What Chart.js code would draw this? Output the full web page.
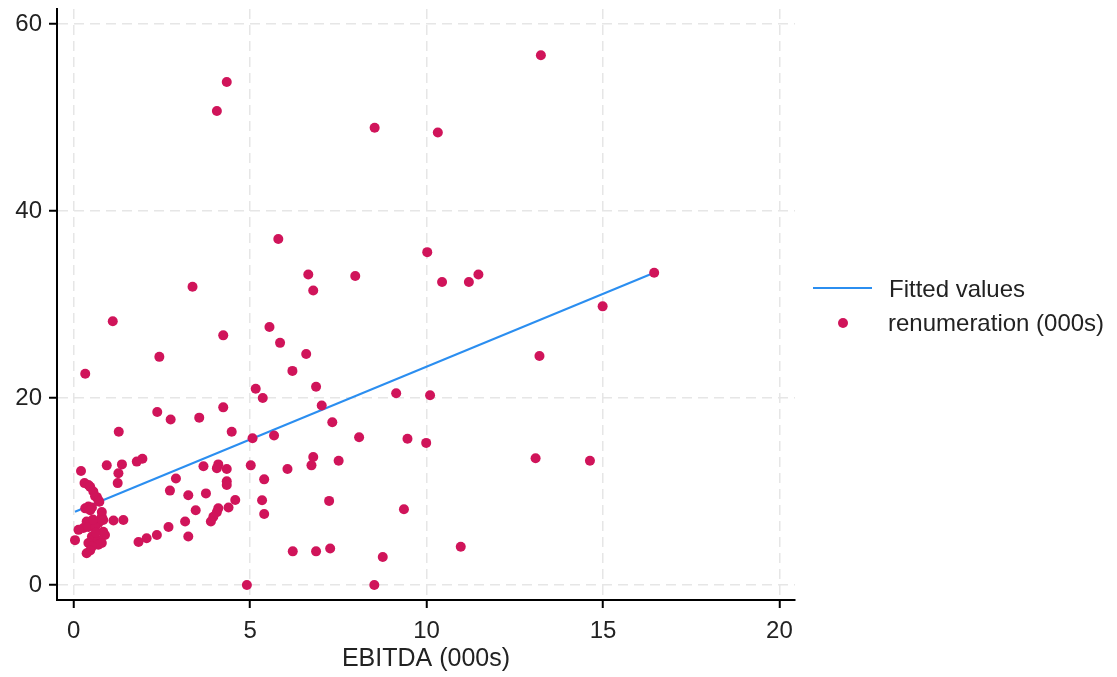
<!DOCTYPE html>
<html>
<head>
<meta charset="utf-8">
<script src="https://cdn.jsdelivr.net/npm/chart.js@4"></script>
<style>
body{margin:0;background:#fff;}
#wrap{position:relative;width:1117px;height:677px;font-family:"Liberation Sans",Arial,sans-serif;color:#222;}
#legend .item{position:absolute;font-size:24px;line-height:24px;white-space:nowrap;}
#legend .line{position:absolute;height:2px;background:#2b8ef0;}
#legend .dot{position:absolute;width:10px;height:10px;border-radius:50%;background:#d0145a;}
</style>
</head>
<body>
<div id="wrap">
<canvas id="scatterChart" width="1117" height="677"></canvas>
<div id="legend">
  <div class="line" style="left:813px;top:287px;width:59px;"></div>
  <div class="item" style="left:889px;top:277px;">Fitted values</div>
  <div class="dot" style="left:838px;top:318px;"></div>
  <div class="item" style="left:888px;top:311px;">renumeration (000s)</div>
</div>
</div>
<script>
// EBITDA (000s) and renumeration (000s)
const ebitda = [
13.24,4.34,4.06,8.53,10.32,5.8,10.02,16.45,6.65,7.98,
11.47,11.2,10.44,6.79,3.37,14.99,1.11,5.55,4.24,5.85,
6.59,2.43,13.2,0.33,6.2,6.87,5.16,9.14,5.36,10.1,
7.03,4.24,2.37,3.56,2.75,7.33,1.28,4.48,5.68,8.09,
9.46,5.07,9.99,13.09,14.63,1.95,1.79,6.79,7.51,6.74,
5.02,3.68,4.1,4.06,4.34,6.06,1.37,0.94,1.27,0.21,
2.9,5.4,4.34,4.34,1.25,0.31,0.42,0.47,2.73,3.75,
3.25,0.56,0.61,0.66,0.7,4.58,5.34,7.24,0.73,0.33,
0.42,0.52,4.1,4.39,3.46,9.36,5.4,0.8,4.06,3.96,
0.8,0.84,1.13,1.41,3.89,3.16,0.37,0.7,2.69,0.28,
0.14,0.42,0.61,0.84,0.89,2.36,3.25,0.52,2.07,0.61,
0.04,0.7,1.84,0.42,0.8,0.7,0.52,7.27,10.97,0.47,
6.21,6.87,0.37,8.76,4.91,8.52,0.47,0.63,0.55
];
const renum = [
56.65,53.8,50.7,48.9,48.4,37.0,35.6,33.4,33.2,33.05,
33.2,32.4,32.4,31.5,31.9,29.8,28.2,27.6,26.7,25.9,
24.7,24.4,24.5,22.6,22.9,21.2,21.0,20.5,20.0,20.3,
19.2,19.0,18.5,17.9,17.7,17.4,16.4,16.4,16.0,15.8,
15.65,15.7,15.2,13.55,13.3,13.5,13.2,13.7,13.3,12.8,
12.8,12.7,12.9,12.5,12.4,12.4,12.9,12.8,11.95,12.2,
11.4,11.3,11.1,10.7,10.9,10.9,10.7,10.5,10.1,9.8,
9.6,10.0,9.5,9.4,9.1,9.1,9.06,9.0,8.9,8.2,
8.4,8.3,8.2,8.3,8.0,8.1,7.6,7.8,7.8,7.3,
7.3,6.95,6.9,6.95,6.8,6.8,6.8,6.6,6.2,6.1,
5.9,6.2,6.2,5.7,5.35,5.35,5.2,5.2,5.0,5.0,
4.8,4.8,4.6,4.5,4.5,4.3,4.1,3.9,4.1,3.7,
3.6,3.6,3.4,3.0,0,0,8.0,5.6,7.0
];

// fitted line end points
const fitX = [0.04, 16.45];
const fitY = [7.84, 33.4];

const xTicks = [0, 5, 10, 15, 20];
const yTicks = [0, 20, 40, 60];

const tickFont = {family: '"Liberation Sans", Arial, sans-serif', size: 24};

const gridOpts = {
    color: '#e6e6e6',
    lineWidth: 1.5,
    tickLength: 8,
    tickColor: '#000',
    tickWidth: 2,
    tickBorderDash: []
};
const borderOpts = {display: true, color: '#000', width: 2, dash: [10, 6]};

new Chart(document.getElementById('scatterChart'), {
    type: 'scatter',
    data: {
        datasets: [{
            label: 'renumeration (000s)',
            data: ebitda.map((x, i) => ({x: x, y: renum[i]})),
            backgroundColor: '#d0145a',
            borderWidth: 0,
            pointRadius: 5,
            pointHoverRadius: 5
        }, {
            type: 'line',
            label: 'Fitted values',
            data: fitX.map((x, i) => ({x: x, y: fitY[i]})),
            borderColor: '#2b8ef0',
            borderWidth: 2,
            pointRadius: 0,
            fill: false
        }]
    },
    options: {
        responsive: false,
        animation: false,
        layout: {padding: {left: 0, top: 9, right: 322, bottom: 0}},
        plugins: {legend: {display: false}, tooltip: {enabled: false}},
        scales: {
            x: {
                type: 'linear',
                min: -0.47,
                max: 20.44,
                afterFit: s => { s.height = 77; s.paddingLeft = 0; s.paddingRight = 0; },
                afterBuildTicks: s => { s.ticks = xTicks.map(v => ({value: v})); },
                grid: gridOpts,
                border: borderOpts,
                ticks: {font: tickFont, color: '#222', padding: 9, maxRotation: 0},
                title: {
                    display: true,
                    text: 'EBITDA (000s)',
                    font: {family: tickFont.family, size: 25},
                    color: '#222',
                    padding: {top: 4, bottom: 3}
                }
            },
            y: {
                type: 'linear',
                min: -1.6,
                max: 61.6,
                afterFit: s => { s.width = 57; s.paddingTop = 0; s.paddingBottom = 0; },
                afterBuildTicks: s => { s.ticks = yTicks.map(v => ({value: v})); },
                grid: gridOpts,
                border: borderOpts,
                ticks: {font: tickFont, color: '#222', padding: 7}
            }
        }
    }
});
</script>
</body>
</html>
